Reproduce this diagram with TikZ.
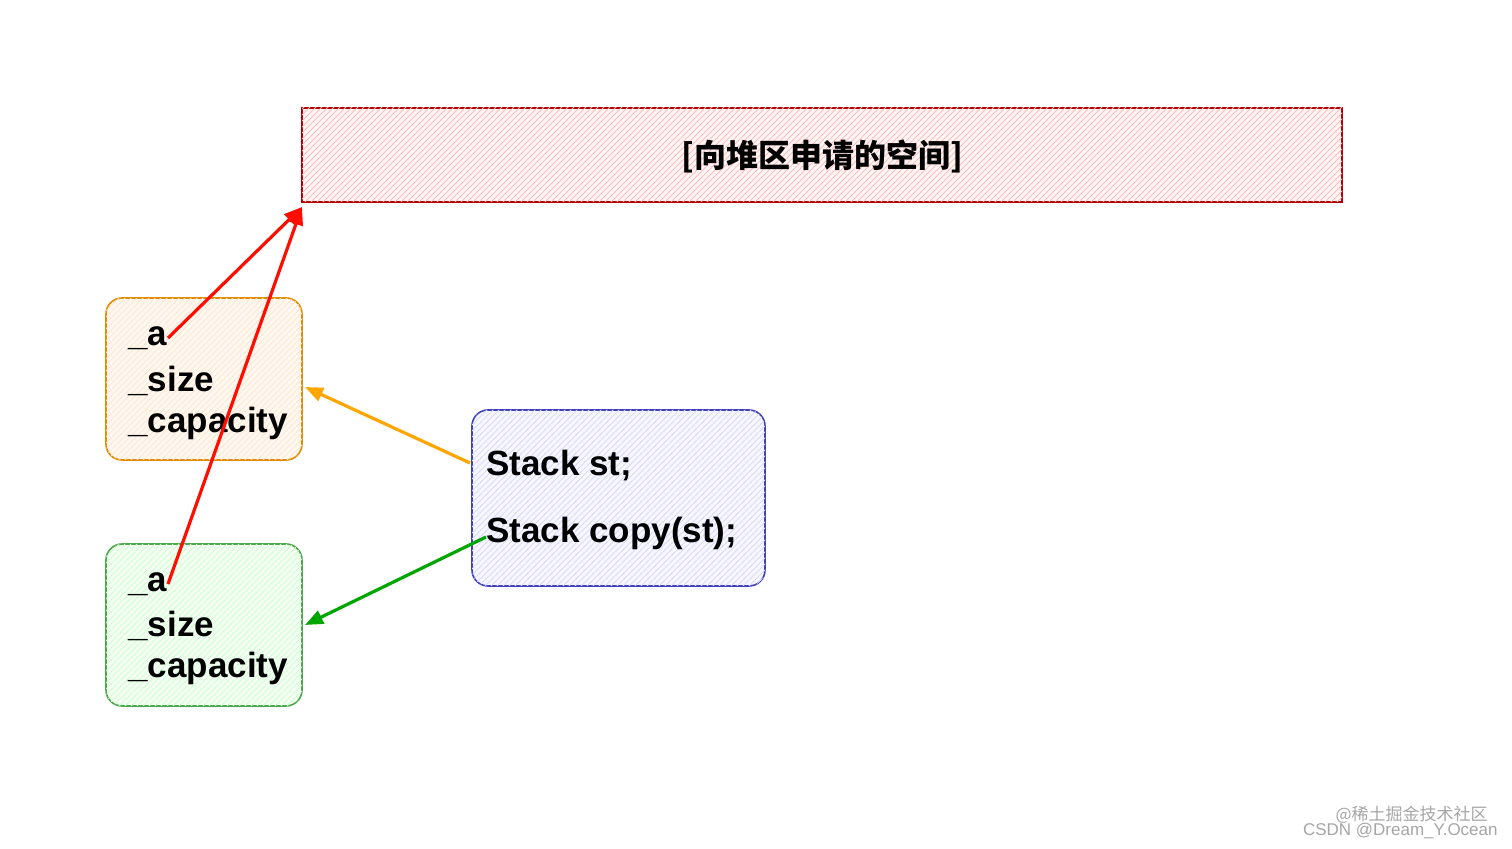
\documentclass[tikz,border=0pt]{standalone}
\usepackage{fontspec}
\setmainfont{Liberation Sans}
\newfontfamily\cjk{Noto Sans CJK SC}
\usetikzlibrary{patterns,arrows.meta}
\begin{document}
\begin{tikzpicture}[x=0.5pt,y=-0.5pt,
  lbl/.style={anchor=west,font=\bfseries\fontsize{17.5}{20}\selectfont,inner sep=0},
  box/.style={rounded corners=8pt,line width=0.8pt},
  arr/.style={line width=1.6pt,-{Triangle[length=9pt,width=7pt]}}]
\useasboundingbox (0,0) rectangle (1512,849);
\fill[white] (0,0) rectangle (1512,849);
% heap box
\filldraw[draw=red!70!black,fill=red!4,line width=0.8pt] (302,108) rectangle (1342,202);
\fill[pattern=north east lines,pattern color=red!25] (302,108) rectangle (1342,202);
\node[font=\cjk\bfseries\fontsize{16}{18}\selectfont] (heap) at (822,156) {[向堆区申请的空间]};
\coordinate (hp) at (302,207);
% orange box
\filldraw[box,draw=orange!80!yellow!90!black,fill=orange!5] (106,298) rectangle (302,460);
\fill[pattern=north east lines,pattern color=orange!20,rounded corners=8pt] (106,298) rectangle (302,460);
\node[lbl] (oa) at (128,338) {\_a};
\node[lbl] (os) at (128,381) {\_size};
\node[lbl] (oc) at (128,423) {\_capacity};
\coordinate (oin) at (305,387);
% green box
\filldraw[box,draw=green!50!black!70,fill=green!4] (106,544) rectangle (302,706);
\fill[pattern=north east lines,pattern color=green!20,rounded corners=8pt] (106,544) rectangle (302,706);
\node[lbl] (ga) at (128,584) {\_a};
\node[lbl] (gs) at (128,626) {\_size};
\node[lbl] (gc) at (128,668) {\_capacity};
\coordinate (gin) at (305,625);
% blue box
\filldraw[box,draw=blue!50!gray,fill=blue!3] (472,410) rectangle (765,586);
\fill[pattern=north east lines,pattern color=blue!15,rounded corners=8pt] (472,410) rectangle (765,586);
\node[lbl] (s1) at (486,466) {Stack st;};
\node[lbl] (s2) at (486,533) {Stack copy(st);};
\coordinate (bo) at (470,463);
\coordinate (bg) at (486,537);
% arrows
\draw[arr,red!90!orange] (168,338) -- (hp);
\draw[arr,red!90!orange] (168,584) -- (hp);
\draw[arr,orange!70!yellow] (bo) -- (oin);
\draw[arr,green!65!black] (bg) -- (gin);
% watermark
\node[anchor=east,text=gray!70,font=\cjk\fontsize{8.5}{9}\selectfont,inner sep=0] (w1) at (1488,815) {@稀土掘金技术社区};
\node[anchor=east,text=gray!70,font=\fontsize{8.5}{9}\selectfont,inner sep=0] (w2) at (1498,831) {CSDN @Dream\_Y.Ocean};
\end{tikzpicture}
\end{document}
